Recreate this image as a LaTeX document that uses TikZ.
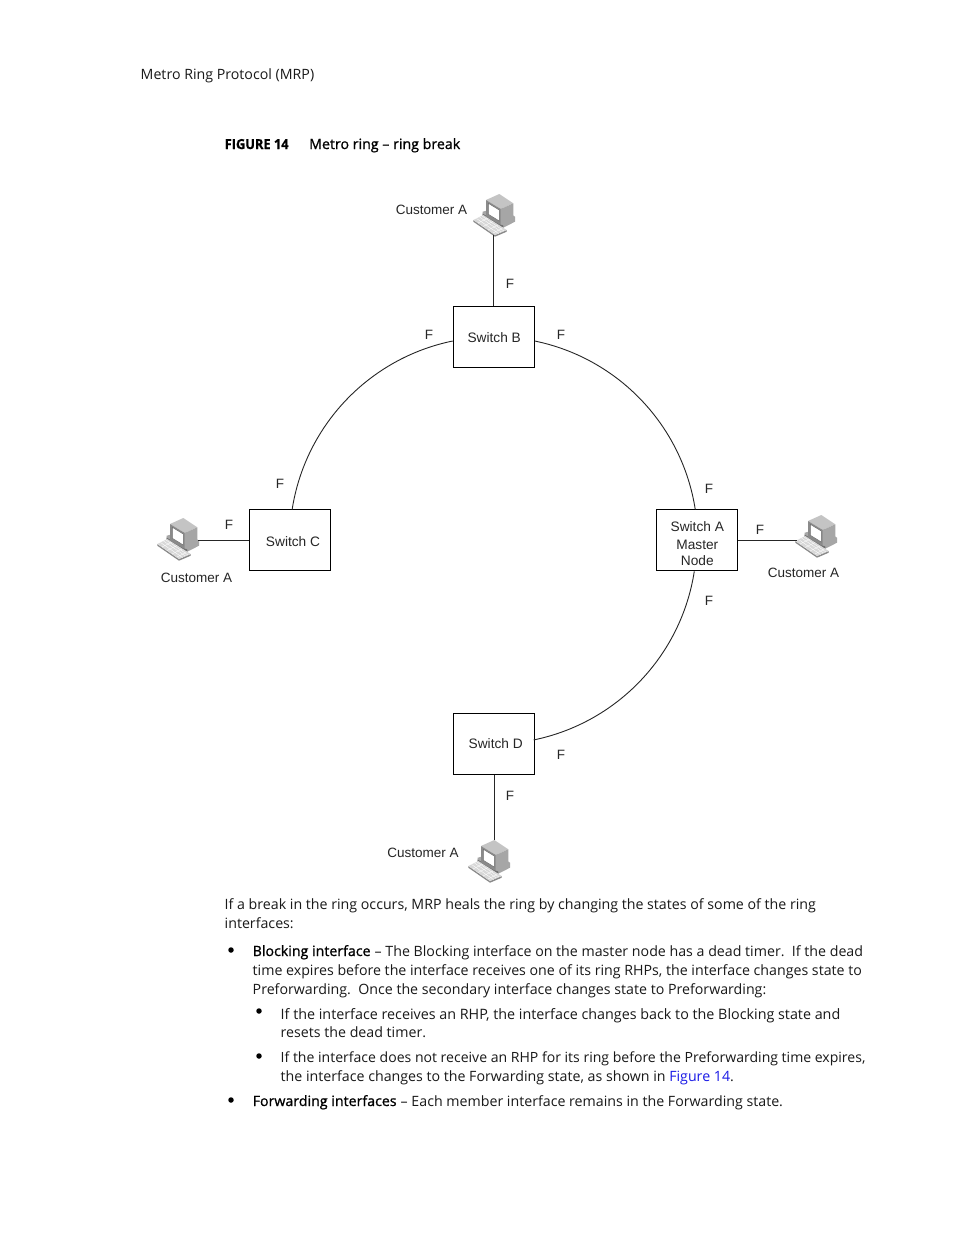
\documentclass[tikz,border=0pt]{standalone}
\usepackage{fontspec}
\setmainfont{Liberation Sans}
\newfontfamily\bodyfont{Open Sans}
\newfontfamily\fakeboldfont[FakeBold=1]{Open Sans}
\newfontfamily\figfont[FakeStretch=0.93,FakeBold=0.8]{Open Sans Bold}
\definecolor{linkblue}{HTML}{1A1AE6}
\definecolor{pctop}{HTML}{C4C4C4}
\definecolor{pcfront}{HTML}{8A8A8A}
\definecolor{pcside}{HTML}{A6A6A6}
\definecolor{pcdark}{HTML}{6E6E6E}
\definecolor{pclight}{HTML}{D8D8D8}
\tikzset{
  sw/.style={draw,line width=1pt,minimum width=81pt,minimum height=61pt,inner sep=0pt,align=center,font=\fontsize{13.7}{16.8}\selectfont,text=black!85},
  lab/.style={inner sep=0pt,font=\fontsize{13.5}{16}\selectfont,text=black!85},
  body/.style={inner sep=0pt,anchor=base west,font=\bodyfont\fontsize{14.2}{17}\selectfont,text=black!90},
  head/.style={inner sep=0pt,anchor=base west,font=\fakeboldfont\fontsize{14.2}{17}\selectfont,text=black},
  wire/.style={line width=0.9pt,black!85},
  bul/.style={circle,fill=black,inner sep=0pt,minimum size=5.5pt},
  pics/pc/.style={code={
    % base
    \fill[pcside] (-11.3,7.7) -- (6.7,3) -- (21,12.7) -- (21,17.7) -- (9.3,23.7) -- (-11.3,12) -- cycle;
    \fill[pcdark] (-11.3,9.7) -- (9.3,21.7) -- (9.3,23.7) -- (-11.3,12) -- cycle;
    % keyboard
    \fill[pcfront] (-20.7,16) -- (1,31) -- (12.7,26) -- (12.7,27.7) -- (1,32.7) -- (-20.7,17.7) -- cycle;
    \fill[pclight] (-20.7,16) -- (-10.7,11) -- (12.7,26) -- (1,31) -- cycle;
    \draw[white,line width=0.35pt] (-17.5,14.5) -- (4.5,29.5) (-14.5,13) -- (7.5,28) (-12,12) -- (10,27);
    \draw[white,line width=0.35pt] (-16,19) -- (-6,14) (-11,22.5) -- (-1,17.5) (-6,26) -- (4,21) (-1,29) -- (8,24.5);
    % monitor
    \fill[pctop] (-8,-4) -- (5.3,-10) -- (19.3,-0.7) -- (6.7,5) -- cycle;
    \fill[pcside] (6.7,5) -- (19.3,-0.7) -- (19.3,13) -- (6.7,21) -- cycle;
    \fill[pcfront] (-8,-4) -- (6.7,5) -- (6.7,21) -- (-8,12.7) -- cycle;
    \fill[white] (-5.7,-0.7) -- (5.3,6) -- (5.3,17) -- (-5.7,10.3) -- cycle;
    \draw[pcdark,line width=0.5pt] (-5.7,-0.7) -- (5.3,6) -- (5.3,17) -- (-5.7,10.3) -- cycle;
  }}
}
\begin{document}
\begin{tikzpicture}[x=1pt,y=-1pt]
\useasboundingbox[fill=white] (0,0) rectangle (954,1235);

\node[body] (hdr) at (140.5,79) {Metro Ring Protocol (MRP)};
\node[head,font=\figfont\fontsize{13.8}{17}\selectfont] (figno) at (224.5,149) {FIGURE 14};
\node[head] (figtitle) at (309,149) {Metro ring – ring break};

% switches
\node[sw] (swB) at (493.7,337) {\rule{0pt}{12pt}\hspace{1pt}Switch B};
\node[sw] (swC) at (290,540.3) {\rule{0pt}{12pt}\hspace{6pt}Switch C};
\node[sw] (swA) at (697.3,540.3) {\rule{0pt}{14.5pt}\raisebox{-2pt}{Switch A}\\[3.5pt]Master\\[-1pt]Node};
\node[sw] (swD) at (493.7,743.7) {\hspace{4pt}Switch D};

% computers
\pic at (494,204) {pc};
\pic at (178,528) {pc};
\pic at (816,525) {pc};
\pic at (489,850) {pc};

\coordinate (pcT) at (493.7,235);
\coordinate (pcL) at (198,540.3);
\coordinate (pcR) at (797,540.3);
\coordinate (pcB) at (494.5,840);

\draw[wire] (pcT) -- (swB.north);
\draw[wire] (pcL) -- (swC.west);
\draw[wire] (swA.east) -- (pcR);
\draw[wire] (swD.south -| pcB) -- (pcB);

% ring
\draw[wire] ([yshift=-4pt]swB.west) arc[start angle=258.4,end angle=188.8,radius=204];
\draw[wire] ([yshift=-4pt]swB.east) arc[start angle=281.6,end angle=351.2,radius=204];
\draw[wire] ([xshift=-3pt]swA.south) arc[start angle=8.8,end angle=78.4,radius=204];

% labels
\node[lab] (cT) at (431.5,209.5) {Customer A};
\node[lab] (cL) at (196.5,577.5) {Customer A};
\node[lab] (cR) at (803.5,572.5) {Customer A};
\node[lab] (cB) at (423,852.5) {Customer A};
\node[lab] (f1) at (510,283.5) {F};
\node[lab] (f2) at (429,334.5) {F};
\node[lab] (f3) at (561,334.5) {F};
\node[lab] (f4) at (280,483.5) {F};
\node[lab] (f5) at (709,488.5) {F};
\node[lab] (f6) at (229,524.5) {F};
\node[lab] (f7) at (760,529.5) {F};
\node[lab] (f8) at (709,600.5) {F};
\node[lab] (f9) at (561,754.5) {F};
\node[lab] (f10) at (510,795.5) {F};

% text
\node[body] (t1) at (224.5,909) {If a break in the ring occurs, MRP heals the ring by changing the states of some of the ring};
\node[body] (t2) at (224.5,928) {interfaces:};
\node[bul] (b1) at (231,950) {};
\node[head] (t3h) at (252.5,956) {Blocking interface};
\node[body] (t3) at (t3h.base east) {\ – The Blocking interface on the master node has a dead timer.\ \ If the dead};
\node[body] (t4) at (252.5,975) {time expires before the interface receives one of its ring RHPs, the interface changes state to};
\node[body] (t5) at (252.5,994) {Preforwarding.\ \ Once the secondary interface changes state to Preforwarding:};
\node[bul] (b2) at (259,1011) {};
\node[body,font=\bodyfont\fontsize{14.32}{17}\selectfont] (t6) at (280.5,1019) {If the interface receives an RHP, the interface changes back to the Blocking state and};
\node[body] (t7) at (280.5,1037) {resets the dead timer.};
\node[bul] (b3) at (259,1056) {};
\node[body,font=\bodyfont\fontsize{14.05}{17}\selectfont] (t8) at (280.5,1062) {If the interface does not receive an RHP for its ring before the Preforwarding time expires,};
\node[body] (t9) at (280.5,1081) {the interface changes to the Forwarding state, as shown in \textcolor{linkblue}{Figure 14}.};
\node[bul] (b4) at (231,1100) {};
\node[head] (t10h) at (252.5,1106) {Forwarding interfaces};
\node[body] (t10) at (t10h.base east) {\ – Each member interface remains in the Forwarding state.};
\end{tikzpicture}
\end{document}
